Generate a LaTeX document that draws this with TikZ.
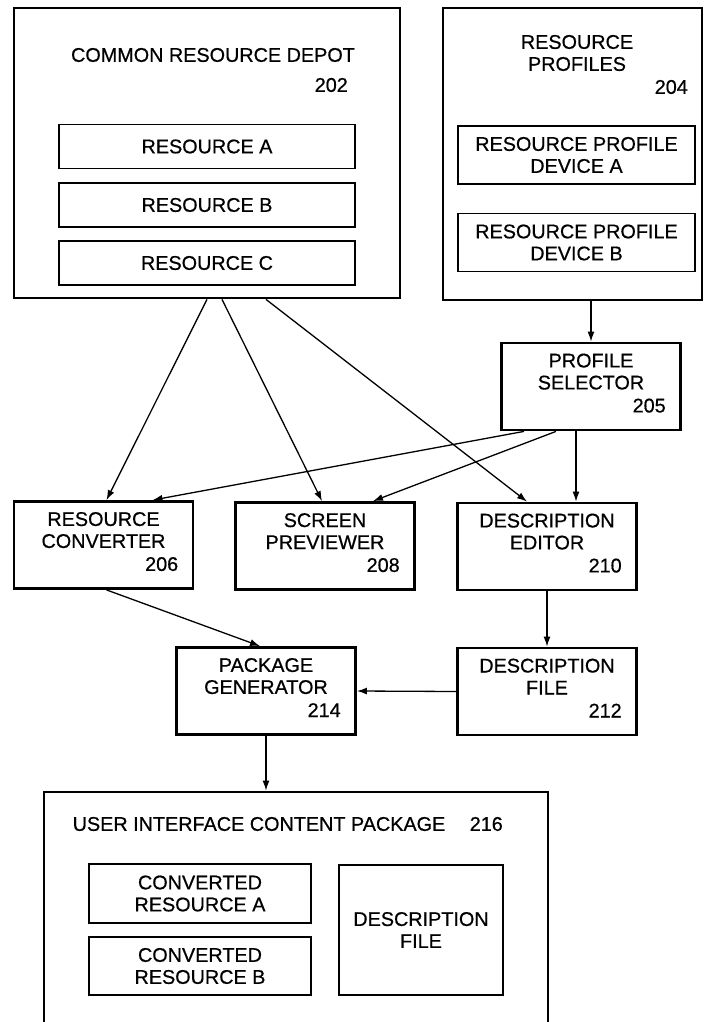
\documentclass[tikz,border=0pt]{standalone}
\usepackage{fontspec}
\setmainfont{Liberation Sans}[FakeBold=0.6]
\usetikzlibrary{arrows.meta}

\tikzset{
	blk/.style={draw, line width=2.8pt, inner sep=0pt},
	sub/.style={draw, line width=1.5pt, inner sep=0pt, align=center, font=\fontsize{19.8}{22}\selectfont},
	lbl/.style={inner sep=0pt, align=center, font=\fontsize{19.8}{22}\selectfont},
	num/.style={lbl, anchor=east},
	flow/.style={line width=1.3pt, -{Latex[length=10pt,width=7pt]}}
}

\begin{document}
\begin{tikzpicture}[x=1pt, y=-1pt]
	\useasboundingbox (0,0) rectangle (714,1022);

	% depot and its resources
	\node[blk, minimum width=386pt, minimum height=290pt] (depot) at (207,153) {};
	\node[lbl] (depot-t) at (213,55) {COMMON RESOURCE DEPOT};
	\node[num] (depot-n) at (348,85) {202};
	\foreach \r/\y in {A/146.5, B/205, C/263}
		\node[sub, minimum width=296pt, minimum height=44pt] (res\r) at (207,\y) {RESOURCE \r};

	% profiles
	\node[blk, minimum width=259pt, minimum height=292pt] (prof) at (572.5,154) {};
	\node[lbl] (prof-t) at (577,53) {RESOURCE\\PROFILES};
	\node[num] (prof-n) at (688,87) {204};
	\foreach \d/\y in {A/155, B/242.5}
		\node[sub, minimum width=237pt, minimum height=58pt] (dev\d) at (576.5,\y) {RESOURCE PROFILE\\DEVICE \d};

	% three-line boxes
	\foreach \n/\x/\y/\a/\b/\k in {sel/591/386.5/PROFILE/SELECTOR/205,
			conv/103.5/545/RESOURCE/CONVERTER/206,
			prev/325/546/SCREEN/PREVIEWER/208,
			edit/547/546.5/DESCRIPTION/EDITOR/210,
			pkg/266/691/PACKAGE/GENERATOR/214,
			dfile/547/691.5/DESCRIPTION/FILE/212} {
		\node[blk, minimum width=179pt, minimum height=87pt] (\n) at (\x,\y) {};
		\node[lbl] (\n-t) at ([yshift=-30pt]\n.north) {\a\\\b};
		\node[num] (\n-n) at ([xshift=-16pt, yshift=-64pt]\n.north east) {\k};
	}

	% content package
	\node[blk, minimum width=504pt, minimum height=232pt] (ui) at (296,908) {};
	\node[lbl] (ui-t) at (259,824) {USER INTERFACE CONTENT PACKAGE};
	\node[num] (ui-n) at (503,824) {216};
	\node[sub, minimum width=222pt, minimum height=59pt] (cresA) at (200,893.5) {CONVERTED\\RESOURCE A};
	\node[sub, minimum width=222pt, minimum height=58pt] (cresB) at (200,966) {CONVERTED\\RESOURCE B};
	\node[sub, minimum width=164pt, minimum height=130pt] (cdesc) at (421,930) {DESCRIPTION\\FILE};

	% connectors
	\draw[flow] (prof.south -| sel.north) -- (sel.north);
	\draw[flow] (depot.south) -- ([xshift=3pt]conv.north);
	\draw[flow] ([xshift=15pt]depot.south) -- ([xshift=-3pt]prev.north);
	\draw[flow] ([xshift=59pt]depot.south) -- ([xshift=-20pt]edit.north);
	\draw[flow] ([xshift=-67pt]sel.south) -- ([xshift=49pt]conv.north);
	\draw[flow] ([xshift=-35pt]sel.south) -- ([xshift=48pt]prev.north);
	\draw[flow] ([xshift=-15pt]sel.south) -- ([xshift=-15pt]sel.south |- edit.north);
	\draw[flow] ([xshift=3pt]conv.south) -- ([xshift=-6pt]pkg.north);
	\draw[flow] (edit.south) -- (dfile.north);
	\draw[flow] (dfile.west) -- (pkg.east);
	\draw[flow] (pkg.south) -- (pkg.south |- ui.north);
\end{tikzpicture}
\end{document}
